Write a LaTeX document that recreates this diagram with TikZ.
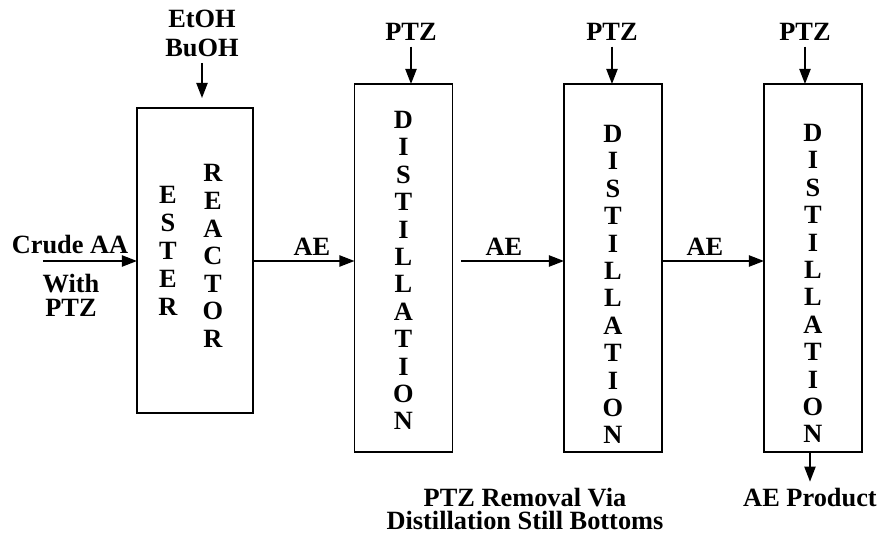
\documentclass[tikz,border=0pt]{standalone}
\usepackage{fontspec}
\setmainfont{Liberation Serif}
\usetikzlibrary{arrows.meta}

\begin{document}
\begin{tikzpicture}[every node/.style={font=\bfseries\fontsize{7.5}{7.5}\selectfont, align=center, inner sep=0pt},
  unit/.style={draw, line width=0.45pt, outer sep=0pt},
  column/.style={font=\bfseries\fontsize{7.5}{#1}\selectfont},
  flow/.style={-{Triangle[length=4.3pt,width=3.2pt]}, line width=0.45pt}]
  \useasboundingbox (0,0) rectangle (8.79,5.36);
  % reactor
  \node[unit, minimum width=1.16cm, minimum height=3.05cm] (reactor) at (1.95,2.755) {};
  \node[column=7.95pt] (ester) at (1.68,2.85) {E\\S\\T\\E\\R};
  \node[column=7.85pt] (react) at (2.13,2.80) {R\\E\\A\\C\\T\\O\\R};
  \node[column=8.2pt] (alc) at (2.02,5.025) {EtOH\\BuOH};
  \draw[flow] ([yshift=-1.5pt]alc.south) -- ([yshift=0.1cm]alc.south |- reactor.north);
  % distillation columns
  \foreach \n/\x/\px/\ty in {1/4.035/4.11/2.655, 2/6.13/6.12/2.515, 3/8.13/8.05/2.525} {
    \node[unit, minimum width=0.98cm, minimum height=3.68cm] (d\n) at (\x,2.68) {};
    \node[column=7.8pt] (dl\n) at (\x,\ty) {D\\I\\S\\T\\I\\L\\L\\A\\T\\I\\O\\N};
    \node (ptz\n) at (\px,5.04) {PTZ};
    \draw[flow] ([yshift=-1.5pt]ptz\n.south) -- (ptz\n.south |- d\n.north);
  }
  % main stream
  \coordinate (feed) at (0.43,2.75);
  \node (crude) at (0.70,2.91) {Crude AA};
  \node[column=6.9pt] (with) at (0.71,2.41) {With\\PTZ};
  \draw[flow] (feed) -- (feed -| reactor.west);
  \draw[flow] (feed -| reactor.east) -- (feed -| d1.west);
  \draw[flow] ([xshift=0.09cm]feed -| d1.east) -- (feed -| d2.west);
  \draw[flow] (feed -| d2.east) -- (feed -| d3.west);
  \foreach \n/\x in {1/3.12, 2/5.04, 3/7.05}
    \node (ae\n) at (\x,2.89) {AE};
  % outlets
  \node (prod) at (8.10,0.38) {AE Product};
  \draw[flow] (d3.south -| prod) -- ([yshift=1.8pt]prod.north);
  \node[column=6.3pt] (bottoms) at (5.25,0.27) {PTZ Removal Via\\Distillation Still Bottoms};
\end{tikzpicture}
\end{document}
